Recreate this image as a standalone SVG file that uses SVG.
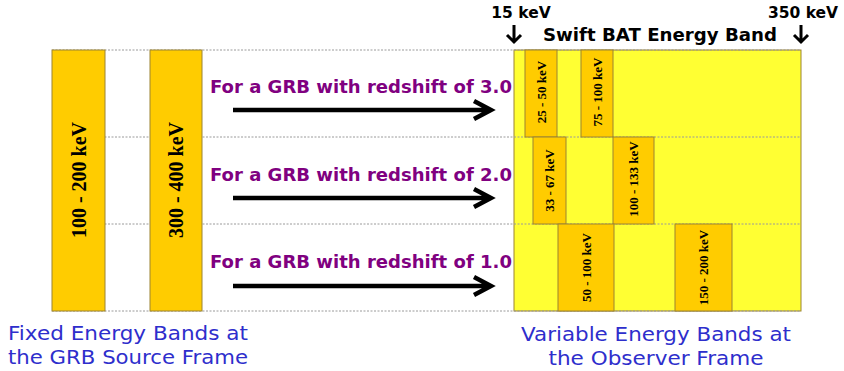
<svg xmlns="http://www.w3.org/2000/svg" width="844" height="371" viewBox="0 0 844 371">
<style>
.bar{fill:#FFCC00;stroke:#9C8432;stroke-width:1}
.big{font-family:"Liberation Serif",serif;font-weight:bold;font-size:20px;fill:#000;text-anchor:middle}
.sm{font-family:"Liberation Serif",serif;font-weight:bold;font-size:13px;fill:#000;text-anchor:middle}
.dot{stroke:#9a9a9a;stroke-width:1;stroke-dasharray:2 1.5;fill:none}
.lbl{font-family:"DejaVu Sans",sans-serif;font-weight:bold;font-size:18px;fill:#800080}
.hdr{font-family:"DejaVu Sans",sans-serif;font-weight:bold;fill:#000}
.cap{font-family:"DejaVu Sans",sans-serif;font-size:20px;fill:#2E2ECC;text-anchor:middle}
.arr{stroke:#000;stroke-width:4.5;fill:none;stroke-linecap:butt}
.dn{stroke:#000;stroke-width:3;fill:none}
</style>
<rect id="observer-frame" x="514" y="50" width="287" height="261" fill="#FFFF33" stroke="#9C8432" stroke-width="1"/>
<g id="grid">
<line class="dot" x1="52" y1="50" x2="801" y2="50"/>
<line class="dot" x1="52" y1="137" x2="801" y2="137"/>
<line class="dot" x1="52" y1="224" x2="801" y2="224"/>
<line class="dot" x1="52" y1="311" x2="801" y2="311"/>
</g>
<g id="band-100-200">
<rect class="bar" x="52" y="50" width="53" height="261"/>
<text class="big" transform="translate(78.5,180) rotate(-90)" y="7">100 - 200 keV</text>
</g>
<g id="band-300-400">
<rect class="bar" x="150" y="50" width="52" height="261"/>
<text class="big" transform="translate(176,180) rotate(-90)" y="7">300 - 400 keV</text>
</g>
<g id="band-25-50">
<rect class="bar" x="525" y="50" width="32" height="87"/>
<text class="sm" transform="translate(541,92) rotate(-90)" y="4.5">25 - 50 keV</text>
</g>
<g id="band-75-100">
<rect class="bar" x="581" y="50" width="32" height="87"/>
<text class="sm" transform="translate(597,92) rotate(-90)" y="4.5">75 - 100 keV</text>
</g>
<g id="band-33-67">
<rect class="bar" x="533" y="137" width="33" height="87"/>
<text class="sm" transform="translate(549.5,180.5) rotate(-90)" y="4.5">33 - 67 keV</text>
</g>
<g id="band-100-133">
<rect class="bar" x="613" y="137" width="41" height="87"/>
<text class="sm" transform="translate(633.5,179) rotate(-90)" y="4.5">100 - 133 keV</text>
</g>
<g id="band-50-100">
<rect class="bar" x="558" y="224" width="56" height="87"/>
<text class="sm" transform="translate(586,267.5) rotate(-90)" y="4.5">50 - 100 keV</text>
</g>
<g id="band-150-200">
<rect class="bar" x="675" y="224" width="57" height="87"/>
<text class="sm" transform="translate(703.5,267.5) rotate(-90)" y="4.5">150 - 200 keV</text>
</g>
<g id="labels">
<text class="lbl" x="210" y="93" textLength="302" lengthAdjust="spacingAndGlyphs">For a GRB with redshift of 3.0</text>
<text class="lbl" x="210" y="181" textLength="302" lengthAdjust="spacingAndGlyphs">For a GRB with redshift of 2.0</text>
<text class="lbl" x="210" y="268" textLength="302" lengthAdjust="spacingAndGlyphs">For a GRB with redshift of 1.0</text>
</g>
<g id="connectors">
<path class="arr" d="M233 110 H491 M474 101 L491 110 L474 119"/>
<path class="arr" d="M233 198 H491 M474 189 L491 198 L474 207"/>
<path class="arr" d="M233 286 H491 M474 277 L491 286 L474 295"/>
<path class="dn" d="M514 25 V42 M507 35 L514 42 L521 35"/>
<path class="dn" d="M801 25 V42 M794 35 L801 42 L808 35"/>
</g>
<g id="header">
<text class="hdr" x="521" y="18" font-size="15.5" text-anchor="middle">15 keV</text>
<text class="hdr" x="803" y="18" font-size="15.5" text-anchor="middle">350 keV</text>
<text class="hdr" x="543" y="41" font-size="18" textLength="234" lengthAdjust="spacingAndGlyphs">Swift BAT Energy Band</text>
</g>
<g id="captions">
<text class="cap" x="128" y="340" textLength="240" lengthAdjust="spacingAndGlyphs">Fixed Energy Bands at</text>
<text class="cap" x="128" y="364" textLength="240" lengthAdjust="spacingAndGlyphs">the GRB Source Frame</text>
<text class="cap" x="656" y="341" textLength="270" lengthAdjust="spacingAndGlyphs">Variable Energy Bands at</text>
<text class="cap" x="656" y="365" textLength="215" lengthAdjust="spacingAndGlyphs">the Observer Frame</text>
</g>
</svg>
